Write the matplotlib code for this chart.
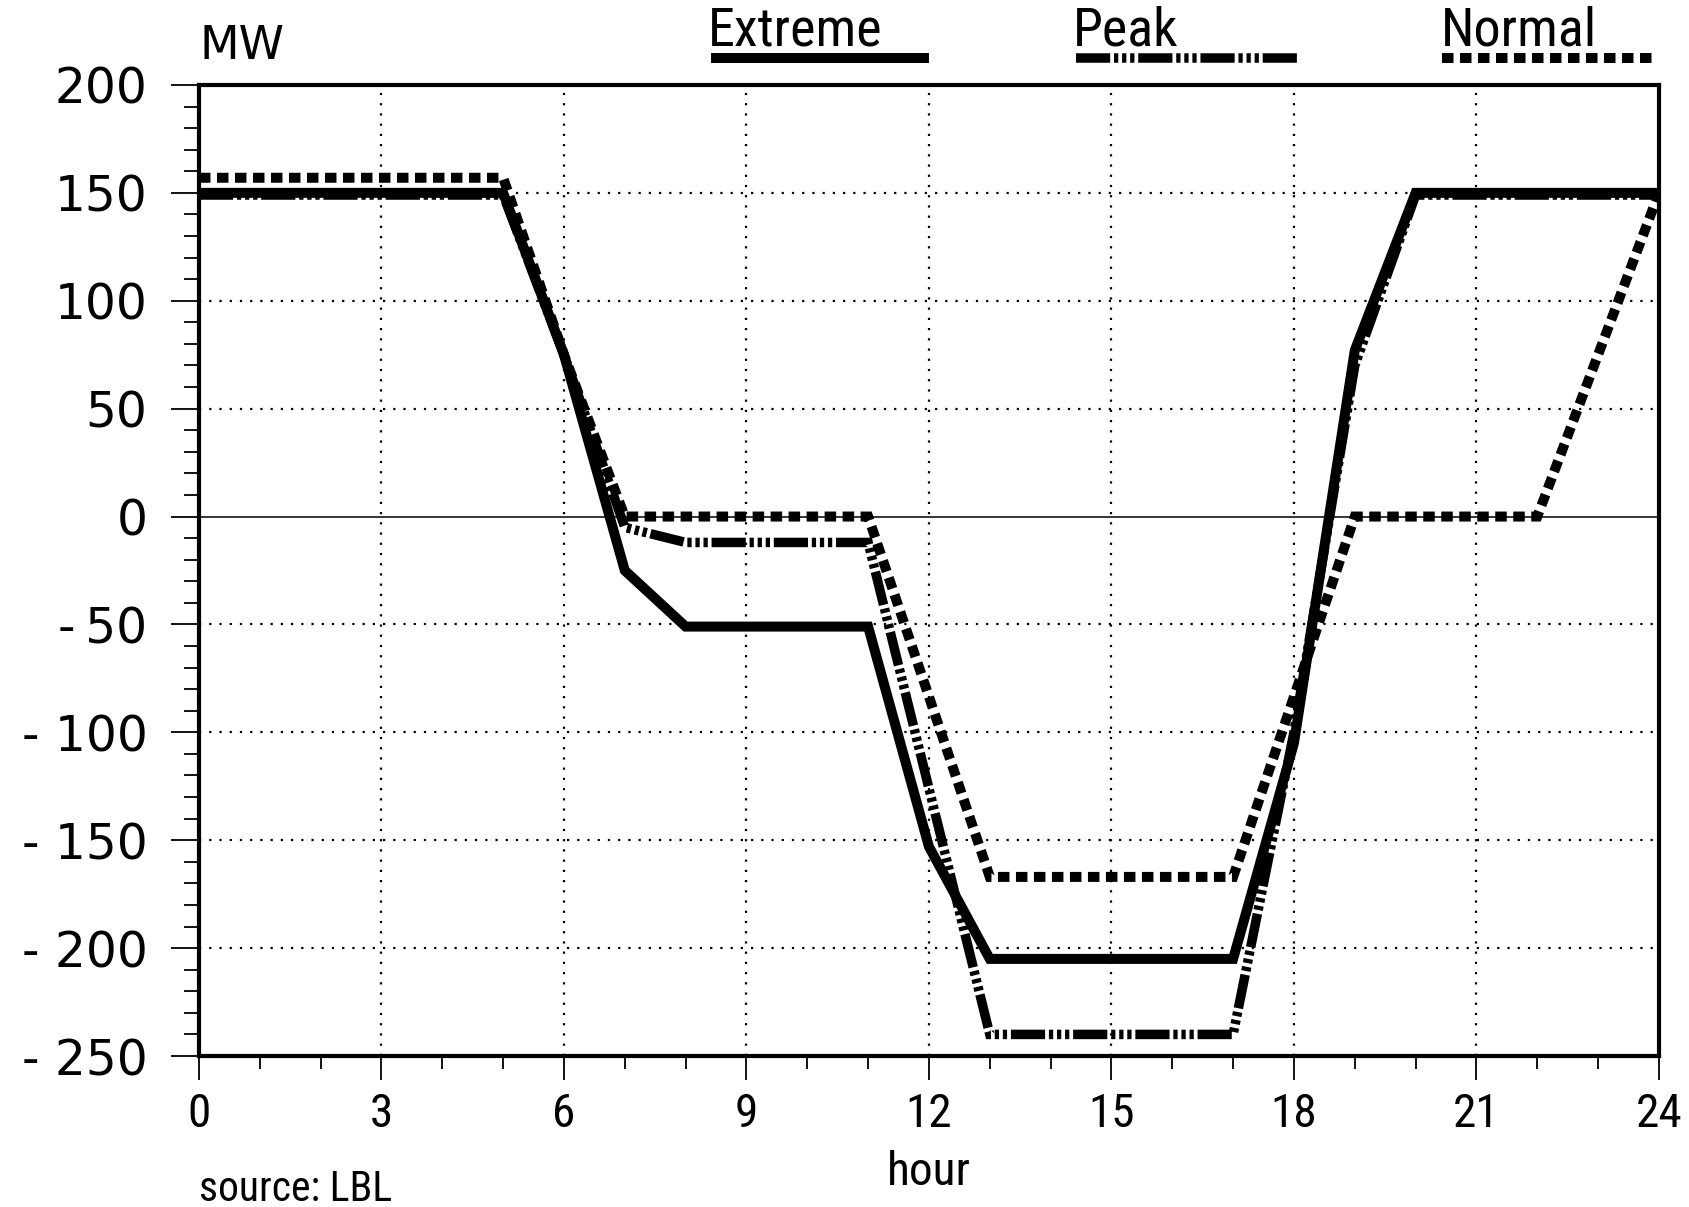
import matplotlib
matplotlib.use("Agg")
import matplotlib.pyplot as plt
from matplotlib.lines import Line2D
from matplotlib.ticker import MultipleLocator, FixedLocator
from matplotlib import font_manager

# Hourly storage dispatch profiles (MW) for three load days
hours_extreme = [0, 5, 6, 7, 8, 11, 12, 13, 17, 18, 19, 20, 24]
extreme = [150, 150, 75, -25, -51, -51, -153, -205, -205, -105, 77, 150, 150]

hours_peak = [0, 5, 6, 7, 8, 11, 13, 17, 18, 19, 20, 24]
peak = [149, 149, 75, -5, -12, -12, -240, -240, -100, 70, 149, 149]

hours_normal = [0, 5, 6, 7, 11, 13, 17, 19, 22, 24]
normal = [157, 157, 75, 0, 0, -167, -167, 0, 0, 150]

series_names = ["Extreme", "Peak", "Normal"]

xticks = [0, 3, 6, 9, 12, 15, 18, 21, 24]
xtick_labels = ["0", "3", "6", "9", "12", "15", "18", "21", "24"]
yticks = [200, 150, 100, 50, 0, -50, -100, -150, -200, -250]
ytick_labels = ["200", "150", "100", "50", "0",
                "-\u200950", "- 100", "- 150", "- 200", "- 250"]

# pick a narrow face for the annotation text if one is available
available = {f.name for f in font_manager.fontManager.ttflist}
narrow = [n for n in ("DejaVu Sans Condensed", "Liberation Sans Narrow",
                      "Roboto Condensed", "Open Sans Condensed")
          if n in available]
NARROW = narrow[:1] + ["DejaVu Sans"]
NARROW_STRETCH = "condensed"

fig = plt.figure(figsize=(16.89, 12.07), dpi=100)
ax = fig.add_axes([0.1178, 0.1251, 0.8644, 0.8045])

LW = 7.2
styles = {
    "Extreme": dict(color="black", lw=LW, linestyle="-",
                    solid_joinstyle="miter", solid_capstyle="butt"),
    "Peak": dict(color="black", lw=LW * 0.95,
                 linestyle=(0, (3.6, 0.4, 0.45, 0.4, 0.45, 0.4, 0.45, 0.4)),
                 dash_capstyle="butt", dash_joinstyle="miter"),
    "Normal": dict(color="black", lw=LW,
                   linestyle=(0, (1.15, 0.65)),
                   dash_capstyle="butt", dash_joinstyle="miter"),
}

# grid and zero line
GRID = dict(color="black", lw=1.6, linestyle=(0, (1, 3.6)), zorder=1)
for x in xticks[1:-1]:
    ax.axvline(x, **GRID)
for y in yticks[1:-1]:
    if y == 0:
        ax.axhline(0, color="black", lw=1.1, zorder=1)
    else:
        ax.axhline(y, **GRID)

ax.plot(hours_normal, normal, zorder=3, **styles["Normal"])
ax.plot(hours_extreme, extreme, zorder=4, **styles["Extreme"])
ax.plot(hours_peak, peak, zorder=5, **styles["Peak"])

ax.set_xlim(0, 24)
ax.set_ylim(-250, 200)

for s in ax.spines.values():
    s.set_linewidth(3.0)

ax.xaxis.set_major_locator(FixedLocator(xticks))
ax.xaxis.set_minor_locator(MultipleLocator(1))
ax.yaxis.set_major_locator(FixedLocator(yticks))
ax.yaxis.set_minor_locator(MultipleLocator(10))
ax.set_xticklabels(xtick_labels, family=NARROW, stretch=NARROW_STRETCH, fontsize=34)
ax.set_yticklabels(ytick_labels, family="DejaVu Sans", fontsize=35)

ax.tick_params(axis="y", which="major", direction="out", length=20, width=1.3, pad=17)
ax.tick_params(axis="y", which="minor", direction="out", length=11, width=1.3)
ax.tick_params(axis="x", which="major", direction="out", length=17, width=1.3, pad=9)
ax.tick_params(axis="x", which="minor", direction="out", length=9, width=1.3)

ax.set_xlabel("hour", family=NARROW, stretch=NARROW_STRETCH, fontsize=34, labelpad=10)

fig.text(0.118, 0.951, "MW", family="DejaVu Sans", fontsize=33,
         ha="left", va="baseline")
fig.text(0.118, 0.005, "source: LBL", family=NARROW, stretch=NARROW_STRETCH,
         fontsize=30, ha="left", va="baseline")

# legend: label above a sample line for each series
legend_text_x = [0.419, 0.635, 0.853]
legend_line_x = [(0.421, 0.550), (0.637, 0.768), (0.854, 0.980)]
for name, tx, (x0, x1) in zip(series_names, legend_text_x, legend_line_x):
    fig.text(tx, 0.962, name, family=NARROW, stretch=NARROW_STRETCH, fontsize=39,
             ha="left", va="baseline")
    fig.add_artist(Line2D([x0, x1], [0.952, 0.952], transform=fig.transFigure,
                          **styles[name]))

fig.savefig("out.png", dpi=100)
